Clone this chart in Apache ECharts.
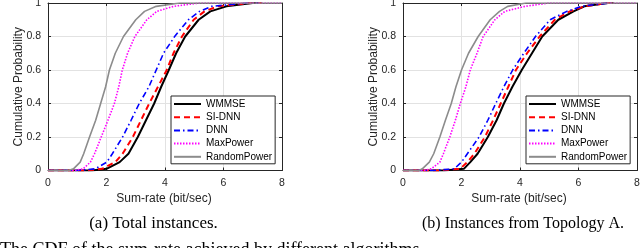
<!DOCTYPE html>
<html><head><meta charset="utf-8">
<script src="https://cdn.jsdelivr.net/npm/echarts@6/dist/echarts.min.js"></script>
<style>html,body{margin:0;padding:0;background:#fff}#c{width:640px;height:248px}</style>
</head><body><div id="c"></div>
<script>
// Cumulative probability levels; each series gives the sum-rate reached at each level
const probLevels = [0, 0, 0.01, 0.05, 0.1, 0.2, 0.3, 0.4, 0.5, 0.6, 0.7, 0.8, 0.9, 0.95, 0.98, 1, 1];
const seriesNames = ['WMMSE', 'SI-DNN', 'DNN', 'MaxPower', 'RandomPower'];
const xTicks = [0, 2, 4, 6, 8];
const yTicks = [0, 0.2, 0.4, 0.6, 0.8, 1];

// (a) Total instances
const totalWMMSE  = [0, 1.5, 2.0, 2.45, 2.75, 3.07, 3.35, 3.63, 3.87, 4.13, 4.38, 4.69, 5.15, 5.55, 6.1, 7.0, 7.3];
const totalSIDNN  = [0, 1.3, 1.85, 2.3, 2.55, 2.9, 3.18, 3.46, 3.76, 4.06, 4.29, 4.58, 4.98, 5.35, 5.8, 6.9, 7.3];
const totalDNN    = [0, 1.0, 1.62, 2.01, 2.2, 2.55, 2.84, 3.12, 3.45, 3.7, 3.95, 4.33, 4.8, 5.18, 5.6, 6.8, 7.2];
const totalMaxPow = [0, 0.9, 1.2, 1.45, 1.59, 1.82, 2.05, 2.27, 2.42, 2.54, 2.72, 2.97, 3.38, 3.72, 4.29, 5.2, 8];
const totalRandPow= [0, 0.7, 0.87, 1.1, 1.22, 1.42, 1.63, 1.8, 1.97, 2.1, 2.3, 2.58, 3.0, 3.3, 3.7, 4.5, 8];

// (b) Instances from Topology A
const topoWMMSE   = [0, 1.4, 2.08, 2.3, 2.55, 2.9, 3.2, 3.45, 3.74, 4.06, 4.41, 4.76, 5.31, 5.83, 6.2, 7.0, 7.2];
const topoSIDNN   = [0, 1.2, 1.95, 2.2, 2.44, 2.8, 3.08, 3.34, 3.6, 3.86, 4.24, 4.67, 5.19, 5.7, 6.2, 7.0, 7.2];
const topoDNN     = [0, 1.0, 1.75, 2.0, 2.2, 2.6, 2.9, 3.17, 3.45, 3.75, 4.13, 4.53, 5.03, 5.6, 6.1, 7.0, 7.2];
const topoMaxPow  = [0, 0.7, 0.97, 1.26, 1.38, 1.6, 1.79, 1.96, 2.15, 2.3, 2.53, 2.74, 3.14, 3.48, 4.17, 5.0, 8];
const topoRandPow = [0, 0.55, 0.66, 0.9, 1.05, 1.26, 1.45, 1.65, 1.81, 2.0, 2.24, 2.57, 2.98, 3.3, 3.58, 4.2, 8];

const captions = ['(a) Total instances.', '(b) Instances from Topology A.'];
const xLabel = 'Sum-rate (bit/sec)';
const yLabel = 'Cumulative Probability';
const footText = 'The CDF of the sum-rate achieved by different algorithms.';

const styles = [
  {color: '#000000', width: 2, type: 'solid'},
  {color: '#ff0000', width: 2, type: [6, 4]},
  {color: '#0000ff', width: 1.6, type: [6, 3, 1.5, 3]},
  {color: '#ff00ff', width: 1.6, type: [1.5, 1.5]},
  {color: '#8c8c8c', width: 1.6, type: 'solid'}
];

const panels = [
  [totalWMMSE, totalSIDNN, totalDNN, totalMaxPow, totalRandPow],
  [topoWMMSE, topoSIDNN, topoDNN, topoMaxPow, topoRandPow]
];

const AX = '#262626';
const SANS = 'Liberation Sans';
const gridLefts = [48, 403];
const gridW = 234, gridTop = 3, gridH = 167.5;

const grids = gridLefts.map(l => ({left: l, top: gridTop, width: gridW, height: gridH, containLabel: false, outerBoundsMode: 'none'}));

const xAxes = [], yAxes = [];
[0, 1].forEach(g => {
  xAxes.push({type: 'value', gridIndex: g, min: xTicks[0], max: xTicks[xTicks.length - 1], interval: 2, position: 'bottom',
    axisLine: {show: true, onZero: false, lineStyle: {color: AX, width: 1}},
    axisTick: {show: true, inside: true, length: 3, lineStyle: {color: AX}},
    axisLabel: {color: AX, fontFamily: SANS, fontSize: 10.5, margin: 7},
    splitLine: {show: true, lineStyle: {color: '#e2e2e2', width: 1}}});
  yAxes.push({type: 'value', gridIndex: g, min: yTicks[0], max: yTicks[yTicks.length - 1], interval: 0.2, position: 'left',
    axisLine: {show: true, onZero: false, lineStyle: {color: AX, width: 1}},
    axisTick: {show: true, inside: true, length: 3, lineStyle: {color: AX}},
    axisLabel: {color: AX, fontFamily: SANS, fontSize: 10.5, margin: 7},
    splitLine: {show: true, lineStyle: {color: '#e2e2e2', width: 1}}});
});
[0, 1].forEach(g => {
  xAxes.push({type: 'value', gridIndex: g, min: 0, max: 8, interval: 2, position: 'top',
    axisLine: {show: true, onZero: false, lineStyle: {color: AX, width: 1}},
    axisTick: {show: true, inside: true, length: 3, lineStyle: {color: AX}},
    axisLabel: {show: false}, splitLine: {show: false}});
  yAxes.push({type: 'value', gridIndex: g, min: 0, max: 1, interval: 0.2, position: 'right',
    axisLine: {show: true, onZero: false, lineStyle: {color: AX, width: 1}},
    axisTick: {show: true, inside: true, length: 3, lineStyle: {color: AX}},
    axisLabel: {show: false}, splitLine: {show: false}});
});

const series = [];
panels.forEach((arrs, g) => {
  arrs.forEach((vals, i) => {
    series.push({
      type: 'line', name: seriesNames[i], xAxisIndex: g, yAxisIndex: g,
      data: vals.map((v, k) => [v, probLevels[k]]),
      showSymbol: false, symbol: 'none', animation: false, clip: true,
      lineStyle: {color: styles[i].color, width: styles[i].width, type: styles[i].type},
      itemStyle: {color: styles[i].color}
    });
  });
});

const legends = gridLefts.map(l => ({
  orient: 'vertical', left: l + 123, top: 96,
  data: seriesNames, selectedMode: false,
  backgroundColor: '#ffffff', borderColor: AX, borderWidth: 1,
  padding: [3, 3, 2, 2], itemGap: 3.2, itemWidth: 27, itemHeight: 10,
  itemStyle: {opacity: 0, borderWidth: 0},
  textStyle: {color: '#000', fontFamily: SANS, fontSize: 10}
}));

const graphics = [];
gridLefts.forEach((l, g) => {
  graphics.push({type: 'text', x: l - 29.5, y: gridTop + gridH / 2, rotation: Math.PI / 2,
    style: {text: yLabel, fill: AX, font: '12px "Liberation Sans"', textAlign: 'center', textVerticalAlign: 'middle'}});
  graphics.push({type: 'text', x: l + gridW / 2 - 1, y: 199,
    style: {text: xLabel, fill: AX, font: '12px "Liberation Sans"', textAlign: 'center', textVerticalAlign: 'middle'}});
});
graphics.push({type: 'text', x: 153.5, y: 224, style: {text: captions[0], fill: '#000', font: '17px "Liberation Serif"', textAlign: 'center', textVerticalAlign: 'middle'}});
graphics.push({type: 'text', x: 523, y: 224, style: {text: captions[1], fill: '#000', font: '16px "Liberation Serif"', textAlign: 'center', textVerticalAlign: 'middle'}});
graphics.push({type: 'text', x: 0, y: 241, style: {text: footText, fill: '#000', font: '18px "Liberation Serif"', textAlign: 'left', textVerticalAlign: 'top'}});

const chart = echarts.init(document.getElementById('c'), null, {renderer: 'canvas'});
chart.setOption({
  animation: false,
  backgroundColor: '#ffffff',
  grid: grids, xAxis: xAxes, yAxis: yAxes, series: series, legend: legends, graphic: graphics
});
</script></body></html>
